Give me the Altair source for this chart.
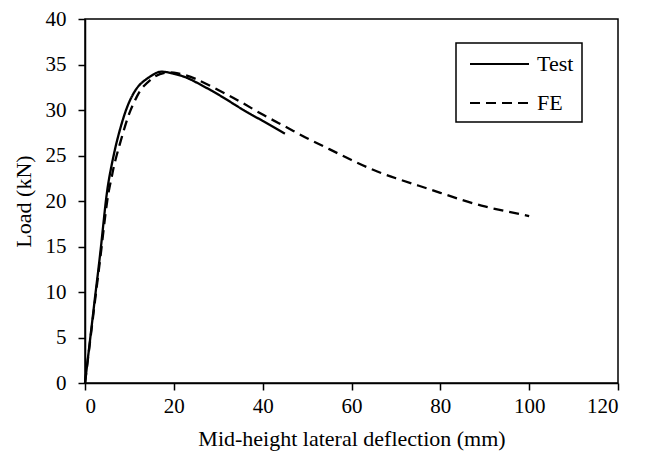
import altair as alt
import pandas as pd

test_x = [0, 1.2, 2.4, 3.6, 4.8, 5.9, 7.2, 9.1, 10.9, 12.8, 15.4, 17.7, 21.4, 24.4, 30.0, 35.0, 40.0, 45.0]
test_y = [0, 5, 10, 15, 20.4, 23.7, 26.6, 29.8, 31.8, 33.0, 33.9, 34.2, 33.8, 33.2, 31.7, 30.2, 28.8, 27.4]

fe_x = [0, 1.25, 2.5, 3.75, 5.0, 6.0, 6.8, 8.7, 10.2, 11.7, 13.2, 15.8, 18.1, 20.0, 22.0, 25.0, 30.0, 35.0,
        40.0, 45.0, 50.0, 55.0, 60.0, 65.0, 70.0, 75.0, 80.0, 85.0, 90.0, 95.0, 100.0]
fe_y = [0, 5, 10, 15, 20, 22.6, 24.4, 27.7, 29.9, 31.5, 32.6, 33.7, 34.1, 34.1, 33.9, 33.4, 32.2, 30.9,
        29.5, 28.2, 26.9, 25.7, 24.5, 23.4, 22.5, 21.7, 20.9, 20.1, 19.4, 18.85, 18.35]

series_names = ["Test", "FE"]

df = pd.concat([
    pd.DataFrame({"x": test_x, "y": test_y, "series": series_names[0], "order": range(len(test_x))}),
    pd.DataFrame({"x": fe_x, "y": fe_y, "series": series_names[1], "order": range(len(fe_x))}),
])

FONT = "Liberation Serif"

chart = alt.Chart(df).mark_line(interpolate="natural", color="black", strokeWidth=2.3).encode(
    x=alt.X("x:Q", scale=alt.Scale(domain=[0, 120], nice=False),
            axis=alt.Axis(values=[0, 20, 40, 60, 80, 100, 120], title="Mid-height lateral deflection (mm)")),
    y=alt.Y("y:Q", scale=alt.Scale(domain=[0, 40], nice=False),
            axis=alt.Axis(values=[0, 5, 10, 15, 20, 25, 30, 35, 40], title="Load (kN)")),
    strokeDash=alt.StrokeDash("series:N",
                              scale=alt.Scale(domain=series_names, range=[[1, 0], [10, 6]]),
                              legend=alt.Legend(title=None, orient="none", legendX=371, legendY=24)),
    order="order:Q",
).properties(
    width=533, height=364,
    autosize=alt.AutoSizeParams(type="none"),
    padding={"left": 77, "top": 11, "right": 15, "bottom": 70},
).configure_view(
    stroke="black", strokeWidth=1.5
).configure_axis(
    grid=False, domainColor="black", domainWidth=1.5, tickColor="black", tickWidth=1.5, tickSize=7,
    labelFont=FONT, labelFontSize=21, labelColor="black", labelPadding=5,
    titleFont=FONT, titleFontSize=22, titleColor="black", titleFontWeight="normal",
).configure_axisY(
    labelPadding=12, titlePadding=10,
).configure_axisX(
    titlePadding=12,
).configure_legend(
    strokeColor="black", strokeWidth=1.5, padding=8, cornerRadius=0,
    symbolType="M-0.583,0H4.333", symbolSize=576, symbolStrokeWidth=2, symbolStrokeColor="black",
    labelFont=FONT, labelFontSize=22, labelColor="black", labelOffset=47, rowPadding=15,
    fillColor="white",
)

chart.save("out.html", embed_options={"renderer": "svg", "actions": False})
